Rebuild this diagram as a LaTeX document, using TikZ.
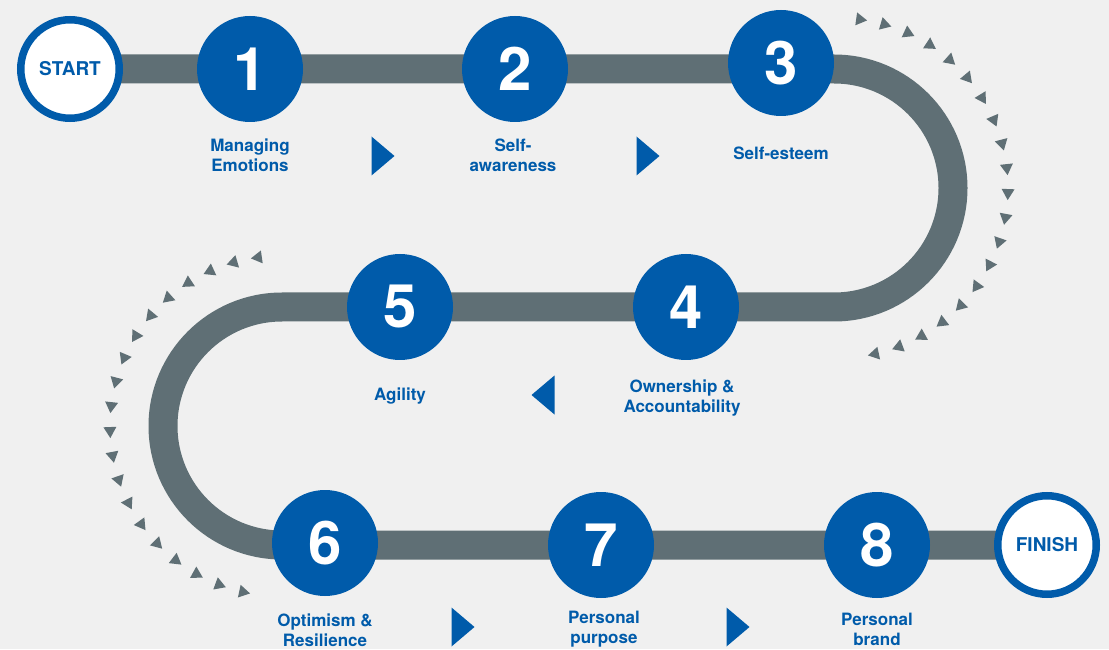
\documentclass[tikz,border=0pt]{standalone}
\usepackage{fontspec}
\setmainfont{TeX Gyre Heros}
\usetikzlibrary{positioning,backgrounds}
\definecolor{stepblue}{HTML}{005BAA}
\definecolor{trackgray}{HTML}{5F6F75}
\definecolor{bggray}{HTML}{F0F0F0}

\tikzset{
  track/.style={trackgray,line width=29pt},
  stepnode/.style={circle,fill=stepblue,minimum size=106pt,inner sep=0pt,text=white,font=\fontsize{60}{60}\selectfont\bfseries},
  endnode/.style={circle,fill=white,draw=stepblue,line width=7.5pt,minimum size=98.5pt,inner sep=0pt,text=stepblue,font=\fontsize{19}{19}\selectfont\bfseries},
  lbl/.style={text=stepblue,align=center,font=\fontsize{17}{20}\selectfont\bfseries},
  pointer/.style={fill=stepblue},
  tick/.style={fill=trackgray},
}

\begin{document}
\begin{tikzpicture}[x=1pt,y=1pt]
	\useasboundingbox (0,0) rectangle (1109,649);
	\begin{scope}[on background layer]
		\fill[bggray] (0,0) rectangle (1109,649);
	\end{scope}
	%turning points of the track
	\coordinate (r1) at (834,580);
	\coordinate (l1) at (282,342);
	\coordinate (rc) at (838,461);
	\coordinate (lc) at (280,223);
	%steps
	\node[endnode] (start) at (70,580) {START};
	\node[stepnode] (n1) at (250,580) {1};
	\node[stepnode] (n2) at (515,580) {2};
	\node[stepnode] (n3) at (781,586) {3};
	\node[stepnode] (n4) at (686,342) {4};
	\node[stepnode] (n5) at (400,342) {5};
	\node[stepnode] (n6) at (325,106) {6};
	\node[stepnode] (n7) at (601,104) {7};
	\node[stepnode] (n8) at (877,104) {8};
	\node[endnode] (finish) at (1047,104) {FINISH};
	%labels
	\node[lbl] (t1) at (250,494) {Managing\\Emotions};
	\node[lbl] (t2) at (513,494) {Self-\\awareness};
	\node[lbl] (t3) at (781,496) {Self-esteem};
	\node[lbl] (t4) at (682,251) {Ownership \&\\Accountability};
	\node[lbl] (t5) at (400,253) {Agility};
	\node[lbl] (t6) at (325,19) {Optimism \&\\Resilience};
	\node[lbl] (t7) at (604,20) {Personal\\purpose};
	\node[lbl] (t8) at (877,20) {Personal\\brand};
	%track
	\begin{scope}[on background layer]
		\draw[track] (start.center) -- (r1) arc[start angle=90,end angle=-90,radius=119]
			-- (l1) arc[start angle=90,end angle=270,radius=119] -- (finish.center);
	\end{scope}
	%direction pointers
	\foreach \x/\y/\d in {383/493/1,648/493/1,543/254/-1,463/22/1,738/22/1}
		\fill[pointer] ({\x-11.5*\d},{\y+19.5}) -- ({\x+11.5*\d},\y) -- ({\x-11.5*\d},{\y-19.5}) -- cycle;
	%small ticks round the loops
	\foreach \i in {0,...,19}{
		\pgfmathsetmacro\a{82-\i*160/19}
		\fill[tick,shift={(rc)},rotate=\a] (170,-5.5) -- (163.5,5.5) -- (176.5,5.5) -- cycle;
		\pgfmathsetmacro\b{98+\i*160/19}
		\fill[tick,shift={(lc)},rotate=\b] (170,5.5) -- (163.5,-5.5) -- (176.5,-5.5) -- cycle;
	}
\end{tikzpicture}
\end{document}
